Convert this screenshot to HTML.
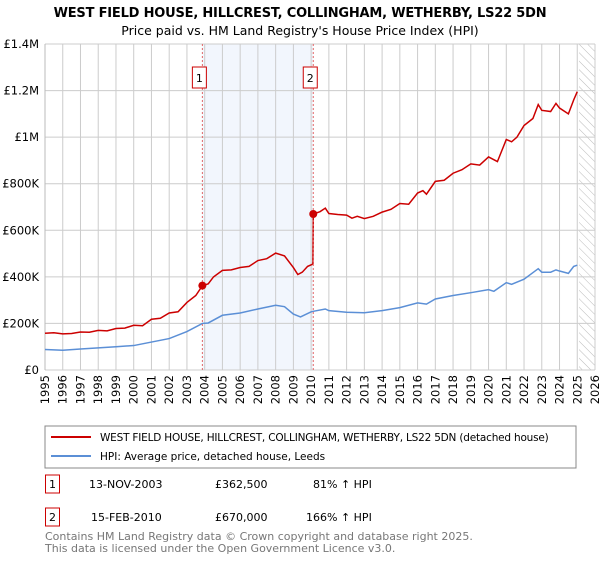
<!DOCTYPE html>
<html><head><meta charset="utf-8"><style>
body{margin:0;background:#fff;font-family:"Liberation Sans","DejaVu Sans",sans-serif;}
svg text{font-family:"DejaVu Sans","Liberation Sans",sans-serif;}
</style></head><body>
<svg id="c" width="600" height="560" xmlns="http://www.w3.org/2000/svg">
<defs><pattern id="hatch" width="6" height="6" patternUnits="userSpaceOnUse" patternTransform="rotate(-45)"><line x1="0" y1="0" x2="0" y2="6" stroke="#bbb" stroke-width="1"/></pattern></defs>
<text x="300" y="17" text-anchor="middle" font-size="13" font-weight="bold" letter-spacing="-0.2">WEST FIELD HOUSE, HILLCREST, COLLINGHAM, WETHERBY, LS22 5DN</text>
<text x="300" y="35" text-anchor="middle" font-size="12.5">Price paid vs. HM Land Registry's House Price Index (HPI)</text>
<g id="plot"></g>
<rect x="45" y="426" width="531" height="42" fill="#fff" stroke="#888"/>
<g><line x1="51" y1="437" x2="91" y2="437" stroke="#cc0000" stroke-width="2"/><text x="100" y="441" font-size="10.5" letter-spacing="-0.2">WEST FIELD HOUSE, HILLCREST, COLLINGHAM, WETHERBY, LS22 5DN (detached house)</text></g>
<g><line x1="51" y1="456" x2="91" y2="456" stroke="#5b8fd6" stroke-width="2"/><text x="100" y="460" font-size="10.5">HPI: Average price, detached house, Leeds</text></g>
<g><rect x="45.5" y="475" width="14" height="18" fill="#fff" stroke="#cc0000"/><text x="52.5" y="488" text-anchor="middle" font-size="11">1</text><text x="89" y="488" font-size="11">13-NOV-2003</text><text x="215" y="488" font-size="11">£362,500</text><text x="313" y="488" font-size="11">81% ↑ HPI</text></g>
<g><rect x="45.5" y="508" width="14" height="18" fill="#fff" stroke="#cc0000"/><text x="52.5" y="521" text-anchor="middle" font-size="11">2</text><text x="91" y="521" font-size="11">15-FEB-2010</text><text x="215" y="521" font-size="11">£670,000</text><text x="306" y="521" font-size="11">166% ↑ HPI</text></g>
<text x="45" y="540" font-size="11" fill="#777">Contains HM Land Registry data © Crown copyright and database right 2025.</text>
<text x="45" y="552" font-size="11" fill="#777">This data is licensed under the Open Government Licence v3.0.</text>
</svg>
<script>
const yearTicks=[1995,1996,1997,1998,1999,2000,2001,2002,2003,2004,2005,2006,2007,2008,2009,2010,2011,2012,2013,2014,2015,2016,2017,2018,2019,2020,2021,2022,2023,2024,2025,2026];
const priceTicks=[0,200,400,600,800,1000,1200,1400];
const priceLabels=["£0","£200K","£400K","£600K","£800K","£1M","£1.2M","£1.4M"];
const redT=[1995,1995.5,1996,1996.5,1997,1997.5,1998,1998.5,1999,1999.5,2000,2000.5,2001,2001.5,2002,2002.5,2003,2003.5,2003.87,2004.2,2004.5,2005,2005.5,2006,2006.5,2007,2007.5,2008,2008.5,2009,2009.25,2009.5,2009.8,2010.1,2010.12,2010.5,2010.8,2011,2011.5,2012,2012.3,2012.6,2013,2013.5,2014,2014.5,2015,2015.5,2016,2016.3,2016.5,2017,2017.5,2018,2018.5,2019,2019.5,2020,2020.5,2021,2021.3,2021.6,2022,2022.5,2022.8,2023,2023.5,2023.8,2024,2024.5,2024.8,2025];
const redV=[158,160,155,157,163,162,170,168,178,180,192,190,218,222,245,250,290,320,362,370,400,428,430,440,445,470,478,502,490,440,410,420,445,455,670,680,695,672,668,665,652,660,650,660,678,690,715,712,760,770,755,810,815,845,860,885,880,915,895,990,980,1000,1050,1080,1140,1115,1110,1145,1125,1100,1160,1195];
const blueT=[1995,1996,1997,1998,1999,2000,2001,2002,2003,2003.87,2004.2,2005,2006,2007,2008,2008.5,2009,2009.4,2010,2010.12,2010.8,2011,2012,2013,2014,2015,2016,2016.5,2017,2018,2019,2020,2020.3,2021,2021.3,2022,2022.8,2023,2023.5,2023.8,2024,2024.5,2024.8,2025];
const blueV=[88,85,90,95,100,105,120,135,165,200,202,235,245,262,278,272,240,228,250,252,262,255,248,246,255,268,288,283,305,320,332,345,338,375,368,390,435,420,420,430,425,415,445,450];
const saleT=[2003.87,2010.12];
const saleV=[362.5,670];
const saleLabels=["1","2"];
const X0=45,X1=595,Y0=370,Y1=44;
const x=t=>X0+(t-1995)/(2026-1995)*(X1-X0);
const y=v=>Y0-v/1400*(Y0-Y1);
const NS="http://www.w3.org/2000/svg";
const g=document.getElementById('plot');
function mk(tag,a){const e=document.createElementNS(NS,tag);for(const k in a)e.setAttribute(k,a[k]);g.appendChild(e);return e;}
let e=mk('rect',{x:x(saleT[0]),y:Y1,width:x(saleT[1])-x(saleT[0]),height:Y0-Y1,fill:'#f2f6fd'});


e=mk('rect',{x:x(2025.1),y:Y1,width:X1-x(2025.1),height:Y0-Y1,fill:'url(#hatch)'});


yearTicks.forEach(t=>{
 e=mk('line',{x1:x(t),x2:x(t),y1:Y1,y2:Y0,stroke:'#ccc'});
 
 
 e=mk('text',{x:0,y:0,'font-size':11.5,'text-anchor':'end',transform:`translate(${x(t)+4},${Y0+5}) rotate(-90)`});
 e.textContent=t;
 
 
});
priceTicks.forEach((v,i)=>{
 e=mk('line',{x1:X0,x2:X1,y1:y(v),y2:y(v),stroke:'#ccc'});
 
 
 e=mk('text',{x:X0-6,y:y(v)+4,'font-size':11.5,'text-anchor':'end'});
 e.textContent=priceLabels[i];
 
 
});
e=mk('line',{x1:X0,x2:X0,y1:Y1,y2:Y0,stroke:'#bbb'});


e=mk('polyline',{points:blueT.map((t,i)=>x(t)+','+y(blueV[i])).join(' '),fill:'none',stroke:'#5b8fd6','stroke-width':1.5});


e=mk('polyline',{points:redT.map((t,i)=>x(t)+','+y(redV[i])).join(' '),fill:'none',stroke:'#cc0000','stroke-width':1.5});


saleT.forEach((t,i)=>{
 e=mk('line',{x1:x(t),x2:x(t),y1:Y1,y2:Y0,stroke:'#e06666','stroke-dasharray':'2,2'});
 
 
 e=mk('circle',{cx:x(t),cy:y(saleV[i]),r:4,fill:'#cc0000'});
 
 
 e=mk('rect',{x:x(t)-10,y:67,width:14,height:21,fill:'#fff',stroke:'#cc0000'});
 
 
 e=mk('text',{x:x(t)-3,y:82,'font-size':11,'text-anchor':'middle'});
 e.textContent=saleLabels[i];
 
 
});
</script>
</body></html>
